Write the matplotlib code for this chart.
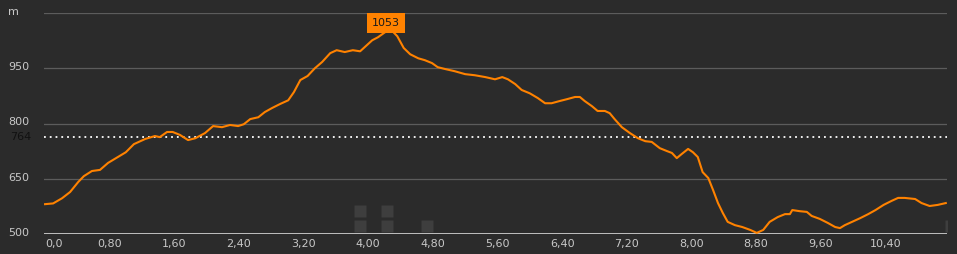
import matplotlib
matplotlib.use("Agg")
import matplotlib.pyplot as plt
import matplotlib.transforms as mtransforms

# elevation profile (km, m)
dist_km = [0.00, 0.10, 0.21, 0.31, 0.41, 0.48, 0.58, 0.68, 0.78, 0.90, 1.00, 1.10, 1.24, 1.36,
           1.42, 1.51, 1.58, 1.67, 1.77, 1.86, 1.98, 2.08, 2.19, 2.29, 2.39, 2.46, 2.54, 2.64,
           2.72, 2.81, 2.91, 3.01, 3.08, 3.16, 3.25, 3.34, 3.43, 3.53, 3.61, 3.71, 3.81, 3.90,
           3.97, 4.05, 4.12, 4.21, 4.29, 4.36, 4.44, 4.52, 4.62, 4.70, 4.79, 4.86, 4.95, 5.07,
           5.20, 5.32, 5.45, 5.57, 5.66, 5.73, 5.82, 5.90, 6.00, 6.10, 6.19, 6.27, 6.37, 6.46,
           6.56, 6.62, 6.68, 6.77, 6.84, 6.93, 6.99, 7.05, 7.14, 7.24, 7.34, 7.43, 7.51, 7.61,
           7.70, 7.76, 7.82, 7.88, 7.96, 8.02, 8.08, 8.14, 8.21, 8.27, 8.33, 8.39, 8.45, 8.54,
           8.63, 8.73, 8.81, 8.89, 8.97, 9.07, 9.16, 9.22, 9.25, 9.34, 9.43, 9.49, 9.59, 9.69,
           9.78, 9.84, 9.90, 9.99, 10.09, 10.19, 10.28, 10.38, 10.48, 10.56, 10.64, 10.77,
           10.85, 10.95, 11.05, 11.15]
elev_m = [581, 583, 597, 614, 641, 657, 671, 674, 693, 709, 722, 744, 758, 766,
          763, 777, 777, 769, 755, 760, 774, 793, 790, 796, 793, 798, 812, 817,
          831, 842, 853, 863, 885, 918, 929, 950, 967, 991, 999, 994, 999, 996,
          1010, 1026, 1034, 1048, 1053, 1037, 1005, 988, 977, 972, 964, 953, 948, 942,
          934, 931, 926, 920, 926, 920, 907, 891, 882, 869, 855, 855, 861, 866,
          872, 872, 861, 847, 834, 834, 828, 812, 790, 774, 760, 752, 750, 733,
          725, 720, 706, 717, 731, 722, 709, 668, 652, 619, 584, 557, 533, 524,
          519, 511, 503, 511, 533, 546, 554, 554, 565, 562, 560, 549, 541, 530,
          519, 516, 524, 533, 543, 554, 565, 579, 590, 598, 598, 595,
          584, 576, 579, 584]

avg_elev = 764
max_elev = 1053
max_km = 4.29

x_ticks = [0.0, 0.8, 1.6, 2.4, 3.2, 4.0, 4.8, 5.6, 6.4, 7.2, 8.0, 8.8, 9.6, 10.4]
x_labels = ["0,0", "0,80", "1,60", "2,40", "3,20", "4,00", "4,80", "5,60",
            "6,40", "7,20", "8,00", "8,80", "9,60", "10,40"]
y_ticks = [500, 650, 800, 950]

# waypoint squares at the bottom
wp_km = [3.90, 3.90, 4.23, 4.23, 4.73, 11.22]
wp_row = [1, 0, 1, 0, 0, 0]

BG = "#2b2b2b"
ORANGE = "#ff8200"

fig = plt.figure(figsize=(9.57, 2.54), dpi=100, facecolor=BG)
ax = fig.add_axes([44 / 957, 20 / 254, 903 / 957, 221 / 254])
ax.set_facecolor(BG)
ax.set_xlim(-0.013, 11.165)
ax.set_ylim(500, 1100)
for s in ax.spines.values():
    s.set_visible(False)
ax.set_xticks([])
ax.set_yticks([])

for v in y_ticks[1:] + [1100]:
    ax.axhline(v, color="#5c5c5c", lw=0.9, zorder=1)
ax.axhline(500, color="#d8d8d8", lw=1.2, zorder=3)
ax.axhline(avg_elev, color="white", lw=1.3, ls=(0, (1, 2.2)), zorder=2)

# waypoint squares (pixel-sized, anchored at bottom)
for k, r in zip(wp_km, wp_row):
    tr = mtransforms.offset_copy(ax.transData, fig=fig, x=0, y=(8.5 + 15 * r) * 0.72, units="points")
    ax.plot([k], [500], marker="s", ms=8, color="#3e3e3e", mec="none", transform=tr, zorder=1,
            clip_on=True)

ax.plot(dist_km, elev_m, color=ORANGE, lw=1.5, zorder=4, solid_joinstyle="round")

# max label
ax.annotate(str(max_elev), (max_km, max_elev), xytext=(-4, 5.5), textcoords="offset points",
            ha="center", va="center", fontsize=8, color="#1a1a1a", zorder=6,
            bbox=dict(boxstyle="square,pad=0.45", fc=ORANGE, ec="none"), annotation_clip=False)

tick_col = "#c8c8c8"
lab = mtransforms.blended_transform_factory(fig.transFigure, ax.transData)
for v in y_ticks:
    ax.text(8 / 957, v + 3, str(v), transform=lab, ha="left", va="center", fontsize=8,
            color=tick_col)
ax.text(8 / 957, 1100 + 3, "m", transform=lab, ha="left", va="center", fontsize=8, color=tick_col)
ax.text(10 / 957, avg_elev, str(avg_elev), transform=lab, ha="left", va="center", fontsize=8,
        color="#111111")

xlab = mtransforms.blended_transform_factory(ax.transData, fig.transFigure)
for i, (v, t) in enumerate(zip(x_ticks, x_labels)):
    ax.text(v if i else 0.0, 10 / 254, t, transform=xlab, ha="left" if i == 0 else "center",
            va="center", fontsize=8, color=tick_col)

fig.savefig("out.png", dpi=100, facecolor=BG)
